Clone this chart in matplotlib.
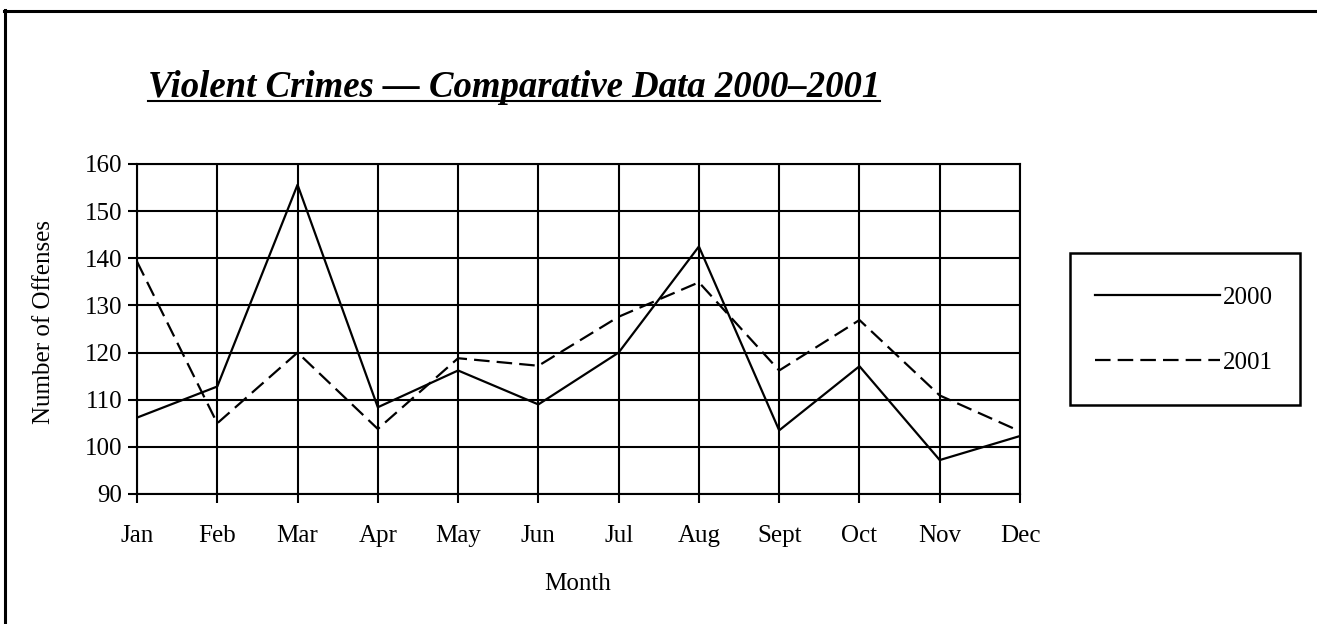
import matplotlib
matplotlib.use("Agg")
import matplotlib.pyplot as plt
from matplotlib.lines import Line2D
from matplotlib.patches import Rectangle

months = ["Jan", "Feb", "Mar", "Apr", "May", "Jun", "Jul", "Aug", "Sept", "Oct", "Nov", "Dec"]
y2000 = [106.2, 112.8, 155.6, 108.4, 116.2, 109.0, 120.0, 142.5, 103.5, 117.1, 97.2, 102.3]
y2001 = [139.3, 105.0, 120.0, 103.8, 118.8, 117.2, 127.6, 134.9, 116.2, 126.9, 110.9, 103.3]
yticks = [90, 100, 110, 120, 130, 140, 150, 160]
title = "Violent Crimes \u2014 Comparative Data 2000\u20132001"

plt.rcParams['font.family'] = ['Liberation Serif', 'DejaVu Serif']

W, H = 1317, 624
fig = plt.figure(figsize=(W / 100, H / 100), dpi=100)

def fx(px):
    return px / W

def fy(py):
    return 1 - py / H

# figure border: left and top only
fig.add_artist(Line2D([fx(5), fx(5)], [fy(10), fy(624)], transform=fig.transFigure,
                      color='black', linewidth=2.2))
fig.add_artist(Line2D([fx(4), fx(1317)], [fy(10.5), fy(10.5)], transform=fig.transFigure,
                      color='black', linewidth=2.2))

ax = fig.add_axes([fx(137), fy(494), fx(883), 330 / H])
x = list(range(len(months)))
ax.plot(x, y2000, color='black', linewidth=1.6, label='2000')
ax.plot(x, y2001, color='black', linewidth=1.6, dashes=(7.0, 3.2), label='2001')

ax.set_xlim(0, len(months) - 1)
ax.set_ylim(90, 160)
ax.set_yticks(yticks)
ax.set_xticks(x)
ax.set_xticklabels(months)
ax.grid(True, color='black', linewidth=1.5)
ax.set_axisbelow(True)
for s in ax.spines.values():
    s.set_linewidth(1.5)
ax.tick_params(axis='x', direction='out', length=6.5, width=1.5, pad=15.5, labelsize=18)
ax.tick_params(axis='y', direction='out', length=6.5, width=1.5, pad=4, labelsize=18)

fig.text(fx(44), fy(322), "Number of Offenses", rotation=90, ha='center', va='center', fontsize=18)
fig.text(fx(578), fy(584), "Month", ha='center', va='center', fontsize=18)

t = fig.text(fx(148), fy(97), title, ha='left', va='baseline', fontsize=26.5,
             fontweight='bold', fontstyle='italic')
fig.canvas.draw()
bb = t.get_window_extent(renderer=fig.canvas.get_renderer())
uy = fy(100.5)
fig.add_artist(Line2D([bb.x0 / W, bb.x1 / W], [uy, uy], transform=fig.transFigure,
                      color='black', linewidth=1.5))

# legend
fig.patches.append(Rectangle((fx(1070), fy(405)), fx(230), 152 / H, transform=fig.transFigure,
                             fill=False, edgecolor='black', linewidth=1.8))
leg = ax.legend(loc='center', bbox_to_anchor=(fx(1184), fy(330)), bbox_transform=fig.transFigure,
                frameon=False, fontsize=18, handlelength=5.0, handletextpad=0.12,
                labelspacing=1.72)

fig.savefig("out.png", dpi=100)
